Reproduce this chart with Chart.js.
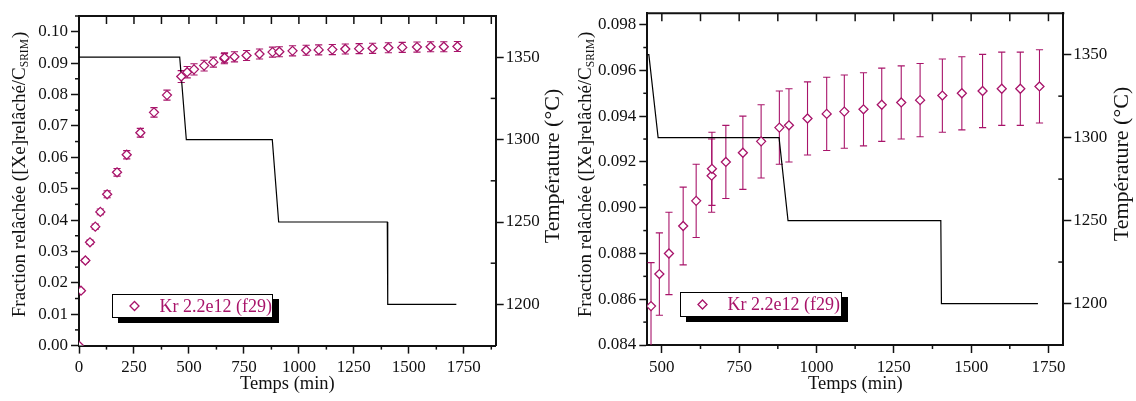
<!DOCTYPE html>
<html>
<head>
<meta charset="utf-8">
<script src="https://cdn.jsdelivr.net/npm/chart.js@4.4.0/dist/chart.umd.min.js"></script>
<style>
  html, body { margin: 0; padding: 0; background: #fff; }
  #wrap { position: relative; width: 1136px; height: 401px; }
  .panel { position: absolute; top: 0; width: 568px; height: 401px; }
</style>
</head>
<body>
<div id="wrap">
  <div class="panel" style="left:0"><canvas id="fracLeft" width="568" height="401"></canvas></div>
  <div class="panel" style="left:568px"><canvas id="fracRight" width="568" height="401"></canvas></div>
</div>
<script>
// release data (min, fraction released, error)
const times = [0, 9, 29, 50, 74, 97, 128, 173, 217, 279, 341, 400, 465, 492, 523, 569, 611, 661, 662,
  707, 762, 821, 880, 911, 971, 1033, 1090, 1152, 1211, 1274, 1335, 1407, 1470, 1537, 1599, 1659, 1721];
const fraction = [0, 0.0175, 0.0271, 0.0329, 0.0379, 0.0426, 0.0482, 0.0552, 0.0608, 0.0678, 0.0743, 0.0798,
  0.0857, 0.0871, 0.0880, 0.0892, 0.0903, 0.0914, 0.0917, 0.0920, 0.0924, 0.0929, 0.0935, 0.0936, 0.0939,
  0.0941, 0.0942, 0.0943, 0.0945, 0.0946, 0.0947, 0.0949, 0.0950, 0.0951, 0.0952, 0.0952, 0.0953];
const fractionErr = [0, 0.0004, 0.0006, 0.0007, 0.0008, 0.0009, 0.0011, 0.0012, 0.0013, 0.0014, 0.0015, 0.0016,
  0.0019, 0.0018, 0.0018, 0.0017, 0.0016, 0.0016, 0.0016, 0.0016, 0.0016, 0.0016, 0.0016, 0.0016, 0.0016,
  0.0016, 0.0016, 0.0016, 0.0016, 0.0016, 0.0016, 0.0016, 0.0016, 0.0016, 0.0016, 0.0016, 0.0016];

// temperature programme
const tempTimes = [0, 458, 488, 879, 908, 1402, 1404, 1716];
const tempValues = [1350, 1350, 1300, 1300, 1250, 1250, 1200, 1200];

const seriesLabel = 'Kr 2.2e12 (f29)';
const fracTitle = ['Fraction relâchée ([Xe]relâché/C', 'SRIM', ')'];
const tempTitle = 'Température (°C)';
const timeTitle = 'Temps (min)';

const MAGENTA = '#a8146a';
const INK = '#111';
const SERIF = '"Liberation Serif", "Times New Roman", serif';

Chart.defaults.font.family = SERIF;
Chart.defaults.font.size = 17;
Chart.defaults.color = INK;

const diamond = (ctx, x, y, r) => {
  ctx.beginPath();
  ctx.moveTo(x - r, y); ctx.lineTo(x, y - r); ctx.lineTo(x + r, y); ctx.lineTo(x, y + r);
  ctx.closePath();
  ctx.fillStyle = '#fff'; ctx.fill();
  ctx.strokeStyle = MAGENTA; ctx.lineWidth = 1.3; ctx.stroke();
};

const errorBars = {
  id: 'errorBars',
  beforeDatasetsDraw(chart) {
    const { ctx, chartArea: a, scales: { x, y } } = chart;
    ctx.save();
    ctx.beginPath();
    ctx.rect(a.left, a.top, a.right - a.left, a.bottom - a.top);
    ctx.clip();
    ctx.strokeStyle = MAGENTA;
    ctx.lineWidth = 1.1;
    times.forEach((t, i) => {
      const e = fractionErr[i];
      if (!e) return;
      const px = x.getPixelForValue(t);
      const hi = y.getPixelForValue(fraction[i] + e);
      const lo = y.getPixelForValue(fraction[i] - e);
      ctx.beginPath();
      ctx.moveTo(px, hi); ctx.lineTo(px, lo);
      ctx.moveTo(px - 3.6, hi); ctx.lineTo(px + 3.6, hi);
      ctx.moveTo(px - 3.6, lo); ctx.lineTo(px + 3.6, lo);
      ctx.stroke();
    });
    ctx.restore();
  }
};

// top border, minor ticks, mirror ticks
const frame = {
  id: 'frame',
  afterDraw(chart, args, o) {
    const { ctx, chartArea: a, scales: { x, y, y2 } } = chart;
    const tick = (x1, y1, x2, y2_) => { ctx.beginPath(); ctx.moveTo(x1, y1); ctx.lineTo(x2, y2_); ctx.stroke(); };
    ctx.save();
    ctx.strokeStyle = INK;
    ctx.lineWidth = 2;
    tick(a.left - 1, a.top, a.right + 1, a.top);
    ctx.lineWidth = 1.5;
    for (let k = Math.ceil(x.min / 125); k * 125 <= x.max; k++) {
      const p = x.getPixelForValue(k * 125);
      if (k % 2) tick(p, a.bottom, p, a.bottom + 4);
      tick(p, a.top, p, a.top + 8);
    }
    const half = o.yStep / 2;
    for (let k = Math.ceil(y.min / half - 1e-6); k * half <= y.max + 1e-9; k++) {
      if (k % 2 === 0) continue;
      const p = y.getPixelForValue(k * half);
      tick(a.left - 4, p, a.left, p);
    }
    for (let k = Math.ceil(y2.min / 25); k * 25 <= y2.max; k++) {
      if (k % 2 === 0) continue;
      const p = y2.getPixelForValue(k * 25);
      if (p <= a.top + 1 || p >= a.bottom - 1) continue;
      tick(a.right - 5, p, a.right, p);
    }
    ctx.restore();
  }
};

const titles = {
  id: 'titles',
  afterDraw(chart, args, o) {
    const { ctx } = chart;
    ctx.save();
    ctx.fillStyle = INK;
    ctx.textBaseline = 'alphabetic';
    // fraction title, with subscript
    ctx.translate(o.fracX, o.fracY);
    ctx.rotate(-Math.PI / 2);
    const big = '19px ' + SERIF, small = '11.5px ' + SERIF;
    ctx.font = big;
    const w0 = ctx.measureText(fracTitle[0]).width;
    const w2 = ctx.measureText(fracTitle[2]).width;
    ctx.font = small;
    const w1 = ctx.measureText(fracTitle[1]).width;
    const sx = -(w0 + w1 + w2) / 2;
    ctx.font = big;
    ctx.fillText(fracTitle[0], sx, 0);
    ctx.font = small;
    ctx.fillText(fracTitle[1], sx + w0, 3);
    ctx.font = big;
    ctx.fillText(fracTitle[2], sx + w0 + w1 + 1, 0);
    ctx.restore();
    // temperature title
    ctx.save();
    ctx.fillStyle = INK;
    ctx.font = '22px ' + SERIF;
    ctx.textAlign = 'center';
    ctx.translate(o.tempX, o.tempY);
    ctx.rotate(-Math.PI / 2);
    ctx.fillText(tempTitle, 0, 0);
    ctx.restore();
  }
};

const legendBox = {
  id: 'legendBox',
  afterDraw(chart, args, o) {
    const { ctx } = chart;
    ctx.save();
    ctx.fillStyle = '#000';
    ctx.fillRect(o.x + 6, o.y + 5, o.w, o.h);
    ctx.fillStyle = '#fff';
    ctx.fillRect(o.x, o.y, o.w, o.h);
    ctx.strokeStyle = '#000';
    ctx.lineWidth = 1;
    ctx.strokeRect(o.x + 0.5, o.y + 0.5, o.w - 1, o.h - 1);
    diamond(ctx, o.x + 22.5, o.y + o.h / 2, 4.5);
    ctx.fillStyle = MAGENTA;
    ctx.font = '18px ' + SERIF;
    ctx.textBaseline = 'middle';
    ctx.fillText(seriesLabel, o.x + 47.5, o.y + o.h / 2 + 1);
    ctx.restore();
  }
};

// major ticks on round multiples of step only
function stepTicks(step) {
  return scale => {
    const list = [];
    for (let k = Math.ceil(scale.min / step - 1e-6); k * step <= scale.max + 1e-9; k++) {
      list.push({ value: Math.round(k * step * 1e6) / 1e6 });
    }
    scale.ticks = list;
  };
}

function makeChart(id, cfg) {
  const points = times.map((t, i) => ({ x: t, y: fraction[i] }));
  const temps = tempTimes.map((t, i) => ({ x: t, y: tempValues[i] }));
  return new Chart(document.getElementById(id), {
    type: 'line',
    data: {
      datasets: [
        {
          label: seriesLabel,
          data: points,
          showLine: false,
          yAxisID: 'y',
          pointStyle: 'rectRot',
          pointRadius: 4.5,
          pointBorderWidth: 1.3,
          pointBorderColor: MAGENTA,
          pointBackgroundColor: '#fff',
          clip: 0
        },
        {
          label: 'T',
          data: temps,
          yAxisID: 'y2',
          borderColor: '#000',
          borderWidth: 1.2,
          pointRadius: 0,
          tension: 0
        }
      ]
    },
    options: {
      responsive: false,
      animation: false,
      layout: { padding: { top: cfg.top, left: 0, right: 0, bottom: 0 } },
      plugins: {
        legend: { display: false },
        tooltip: { enabled: false },
        frame: { yStep: cfg.yStep },
        titles: cfg.titles,
        legendBox: cfg.legend
      },
      scales: {
        x: {
          type: 'linear',
          min: cfg.xMin,
          max: cfg.xMax,
          afterFit: s => { s.height = cfg.xHeight; },
          afterBuildTicks: stepTicks(250),
          ticks: { padding: 4, maxRotation: 0, callback: v => String(v) },
          grid: { drawOnChartArea: false, tickLength: 8, tickColor: INK, tickWidth: 1.5 },
          border: { color: INK, width: 2 },
          title: { display: true, text: timeTitle, font: { size: 18.5 }, padding: { top: 0, bottom: 6 } }
        },
        y: {
          position: 'left',
          min: cfg.yMin,
          max: cfg.yMax,
          afterFit: s => { s.width = cfg.yWidth; },
          afterBuildTicks: stepTicks(cfg.yStep),
          ticks: { padding: 3, callback: v => v.toFixed(cfg.yDigits) },
          grid: { drawOnChartArea: false, tickLength: 8, tickColor: INK, tickWidth: 1.5 },
          border: { color: INK, width: 2 }
        },
        y2: {
          position: 'right',
          min: 1175,
          max: 1375,
          afterFit: s => { s.width = cfg.y2Width; },
          afterBuildTicks: stepTicks(50),
          ticks: { padding: 2, callback: v => String(v) },
          grid: { drawOnChartArea: false, tickLength: 8, tickColor: INK, tickWidth: 1.5 },
          border: { color: INK, width: 2 }
        }
      }
    },
    plugins: [errorBars, frame, titles, legendBox]
  });
}

makeChart('fracLeft', {
  xMin: 0, xMax: 1895, yMin: 0, yMax: 0.105, yStep: 0.01, yDigits: 2,
  top: 16, xHeight: 55.4, yWidth: 79, y2Width: 72.3,
  titles: { fracX: 25, fracY: 175, tempX: 559, tempY: 166 },
  legend: { x: 112, y: 294, w: 161, h: 24 }
});

makeChart('fracRight', {
  xMin: 453, xMax: 1798, yMin: 0.084, yMax: 0.0985, yStep: 0.002, yDigits: 3,
  top: 10.7, xHeight: 56, yWidth: 79.3, y2Width: 72.7,
  titles: { fracX: 23, fracY: 175, tempX: 560, tempY: 164 },
  legend: { x: 112, y: 292, w: 162, h: 25 }
});
</script>
</body>
</html>
